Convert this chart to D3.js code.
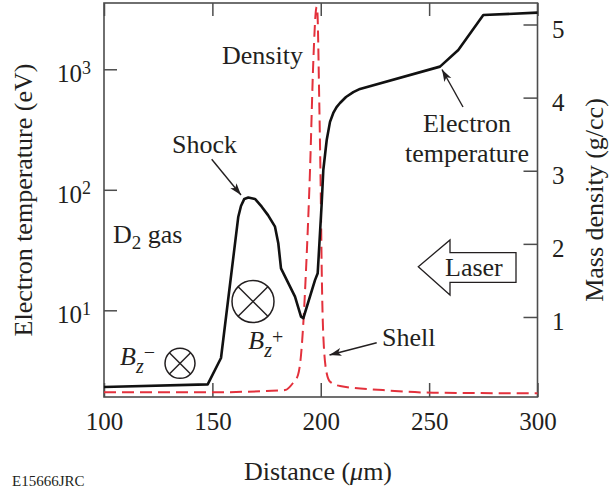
<!DOCTYPE html>
<html>
<head>
<meta charset="utf-8">
<script src="https://cdn.jsdelivr.net/npm/d3@7"></script>
<style>
  html, body { margin: 0; padding: 0; background: #fff; }
  svg { display: block; }
  text { font-family: "Liberation Serif", "Times New Roman", serif; fill: #231f20; }
</style>
</head>
<body>
<svg id="chart" width="611" height="488"></svg>
<script>
// ---- Data ----
const distTemp = [100, 147.84, 153.98, 161.96, 163.2, 164.73, 166.57, 169.66, 172.76, 175.66, 178.89, 180.41, 181.66, 188.12, 190.89, 191.95, 197.35, 198.59, 200.44, 201.18, 202.75, 204.27, 205.79, 207.31, 208.88, 211.65, 215.02, 218.11, 255.02, 263.46, 275.0, 300];
const electronTemp = [2.31, 2.43, 4.02, 59.8, 73.4, 84.0, 86.3, 84.0, 72.4, 61.6, 49.4, 36.0, 22.3, 12.97, 8.85, 8.59, 17.8, 20.3, 77.3, 146, 259, 366, 434, 486, 525, 589, 646, 687, 1052, 1445, 2818, 2950];

const distDens = [100, 150, 175, 183.5, 187.2, 189.5, 190.9, 192.05, 193.2, 195.05, 196.6, 197.8, 198.1, 198.4, 199.3, 200.0, 200.45, 201.2, 202.75, 204.3, 208.9, 228.7, 251.8, 300];
const massDensity = [-0.03, -0.03, -0.012, 0.0, 0.097, 0.207, 0.48, 0.96, 1.64, 3.01, 4.52, 5.20, 5.24, 5.20, 3.97, 2.70, 1.64, 0.73, 0.23, 0.115, 0.056, 0.0, -0.036, -0.044];

const xTicks = [100, 150, 200, 250, 300];
const tempTicks = [10, 100, 1000];
const tempTickExp = ["1", "2", "3"];
const densTicks = [1, 2, 3, 4, 5];

// ---- Layout ----
const L = 104, R = 537.5, T = 3, B = 397;
const svg = d3.select("#chart");
const frameColor = "#4d4d4d";

const x = d3.scaleLinear().domain([100, 300]).range([L, R]);
const yT = d3.scaleLog().domain([1.908, 3548]).range([B, T]);
const yD = d3.scaleLinear().domain([0, 5]).range([390.1, 24.5]);

// defs: arrow marker
const defs = svg.append("defs");
defs.append("marker")
  .attr("id", "arrow").attr("markerUnits", "userSpaceOnUse")
  .attr("markerWidth", 14).attr("markerHeight", 10)
  .attr("refX", 12).attr("refY", 4).attr("orient", "auto")
  .append("path").attr("d", "M0,0 L12,4 L0,8 L3,4 Z").attr("fill", "#231f20");

// ---- Axes ----
function styleAxis(g) {
  g.select(".domain").remove();
  g.selectAll(".tick line").attr("stroke", frameColor).attr("stroke-width", 1.5);
  g.selectAll("text").style("font-size", "25px").attr("fill", "#231f20");
}

svg.append("g").attr("transform", `translate(0,${B})`)
  .call(d3.axisBottom(x).tickValues(xTicks).tickSize(-14).tickPadding(15).tickFormat(d3.format("d")))
  .call(styleAxis);

svg.append("g").attr("transform", `translate(0,${T})`)
  .call(d3.axisTop(x).tickValues(xTicks).tickSize(-13).tickFormat(""))
  .call(styleAxis);

const leftAx = svg.append("g").attr("transform", `translate(${L},0)`)
  .call(d3.axisLeft(yT).tickValues(tempTicks).tickSize(-13).tickFormat(""))
  .call(styleAxis);
leftAx.selectAll(".tick").each(function(d, i) {
  const t = d3.select(this).append("text")
    .attr("x", -13).attr("y", 12.4).attr("text-anchor", "end")
    .style("font-size", "25px");
  t.append("tspan").text("10");
  t.append("tspan").attr("dy", -8.5).style("font-size", "18px").text(tempTickExp[i]);
});

const rightAx = svg.append("g").attr("transform", `translate(${R},0)`)
  .call(d3.axisRight(yD).tickValues(densTicks).tickSize(-14).tickPadding(14.5).tickFormat(d3.format("d")))
  .call(styleAxis);
rightAx.selectAll(".tick text").attr("dy", "0.52em");

// frame
svg.append("rect").attr("x", L).attr("y", T).attr("width", R - L).attr("height", B - T)
  .attr("fill", "none").attr("stroke", frameColor).attr("stroke-width", 1.6);

// ---- Lines ----
const densData = distDens.map((d, i) => [d, massDensity[i]]);
const tempData = distTemp.map((d, i) => [d, electronTemp[i]]);

svg.append("path").datum(densData)
  .attr("fill", "none").attr("stroke", "#e3313c").attr("stroke-width", 2)
  .attr("stroke-dasharray", "12,6")
  .attr("d", d3.line().x(d => x(d[0])).y(d => yD(d[1])).curve(d3.curveMonotoneX));

svg.append("path").datum(tempData)
  .attr("fill", "none").attr("stroke", "#111").attr("stroke-width", 2.6)
  .attr("stroke-linejoin", "round")
  .attr("d", d3.line().x(d => x(d[0])).y(d => yT(d[1])).curve(d3.curveLinear));

// ---- Axis titles ----
svg.append("text").attr("transform", "translate(32,200) rotate(-90)")
  .attr("text-anchor", "middle").style("font-size", "26px").text("Electron temperature (eV)");
svg.append("text").attr("transform", "translate(603,200) rotate(-90)")
  .attr("text-anchor", "middle").style("font-size", "26px").text("Mass density (g/cc)");
const xt = svg.append("text").attr("x", 318).attr("y", 480).attr("text-anchor", "middle").style("font-size", "26px");
xt.append("tspan").text("Distance (");
xt.append("tspan").style("font-style", "italic").text("μ");
xt.append("tspan").text("m)");

svg.append("text").attr("x", 12).attr("y", 486).style("font-size", "15px").text("E15666JRC");

// ---- Annotations ----
svg.append("text").attr("x", 222).attr("y", 64).style("font-size", "26px").text("Density");
svg.append("text").attr("x", 172).attr("y", 152.5).style("font-size", "26px").text("Shock");
svg.append("line").attr("x1", 211.7).attr("y1", 159.3).attr("x2", 241).attr("y2", 195)
  .attr("stroke", "#231f20").attr("stroke-width", 1.4).attr("marker-end", "url(#arrow)");

const dg = svg.append("text").attr("x", 113).attr("y", 243.3).style("font-size", "26px");
dg.append("tspan").text("D");
dg.append("tspan").attr("dy", 6).style("font-size", "19px").text("2");
dg.append("tspan").attr("dy", -6).text(" gas");

svg.append("text").attr("x", 467).attr("y", 132).attr("text-anchor", "middle").style("font-size", "26px").text("Electron");
svg.append("text").attr("x", 467).attr("y", 162).attr("text-anchor", "middle").style("font-size", "26px").text("temperature");
svg.append("line").attr("x1", 463).attr("y1", 107).attr("x2", 442).attr("y2", 69.5)
  .attr("stroke", "#231f20").attr("stroke-width", 1.4).attr("marker-end", "url(#arrow)");

svg.append("text").attr("x", 382).attr("y", 346).style("font-size", "26px").text("Shell");
svg.append("line").attr("x1", 376.7).attr("y1", 342.7).attr("x2", 329.5).attr("y2", 355)
  .attr("stroke", "#231f20").attr("stroke-width", 1.4).attr("marker-end", "url(#arrow)");

// Laser arrow
svg.append("polygon")
  .attr("points", "418.3,266.7 450,240 450,252.7 516,252.7 516,282.3 450,282.3 450,295")
  .attr("fill", "#fff").attr("stroke", "#231f20").attr("stroke-width", 1.3).attr("stroke-linejoin", "miter");
svg.append("text").attr("x", 445).attr("y", 276).style("font-size", "26px").text("Laser");

// circle-x symbols
function otimes(cx, cy, r) {
  const g = svg.append("g");
  g.append("circle").attr("cx", cx).attr("cy", cy).attr("r", r)
    .attr("fill", "none").attr("stroke", "#231f20").attr("stroke-width", 1.5);
  const k = r * Math.SQRT1_2;
  g.append("line").attr("x1", cx - k).attr("y1", cy - k).attr("x2", cx + k).attr("y2", cy + k)
    .attr("stroke", "#231f20").attr("stroke-width", 1.4);
  g.append("line").attr("x1", cx - k).attr("y1", cy + k).attr("x2", cx + k).attr("y2", cy - k)
    .attr("stroke", "#231f20").attr("stroke-width", 1.4);
}
otimes(253, 301.5, 21);
otimes(180, 363.3, 15);

const bp = svg.append("text").attr("x", 248.3).attr("y", 348.5).style("font-size", "26px");
bp.append("tspan").style("font-style", "italic").text("B");
bp.append("tspan").attr("dy", 8).style("font-style", "italic").style("font-size", "20px").text("z");
bp.append("tspan").attr("dy", -12.5).style("font-size", "20px").text("+");

const bm = svg.append("text").attr("x", 120).attr("y", 365).style("font-size", "26px");
bm.append("tspan").style("font-style", "italic").text("B");
bm.append("tspan").attr("dy", 7.7).style("font-style", "italic").style("font-size", "20px").text("z");
bm.append("tspan").attr("dy", -14).style("font-size", "20px").text("−");
</script>
</body>
</html>
